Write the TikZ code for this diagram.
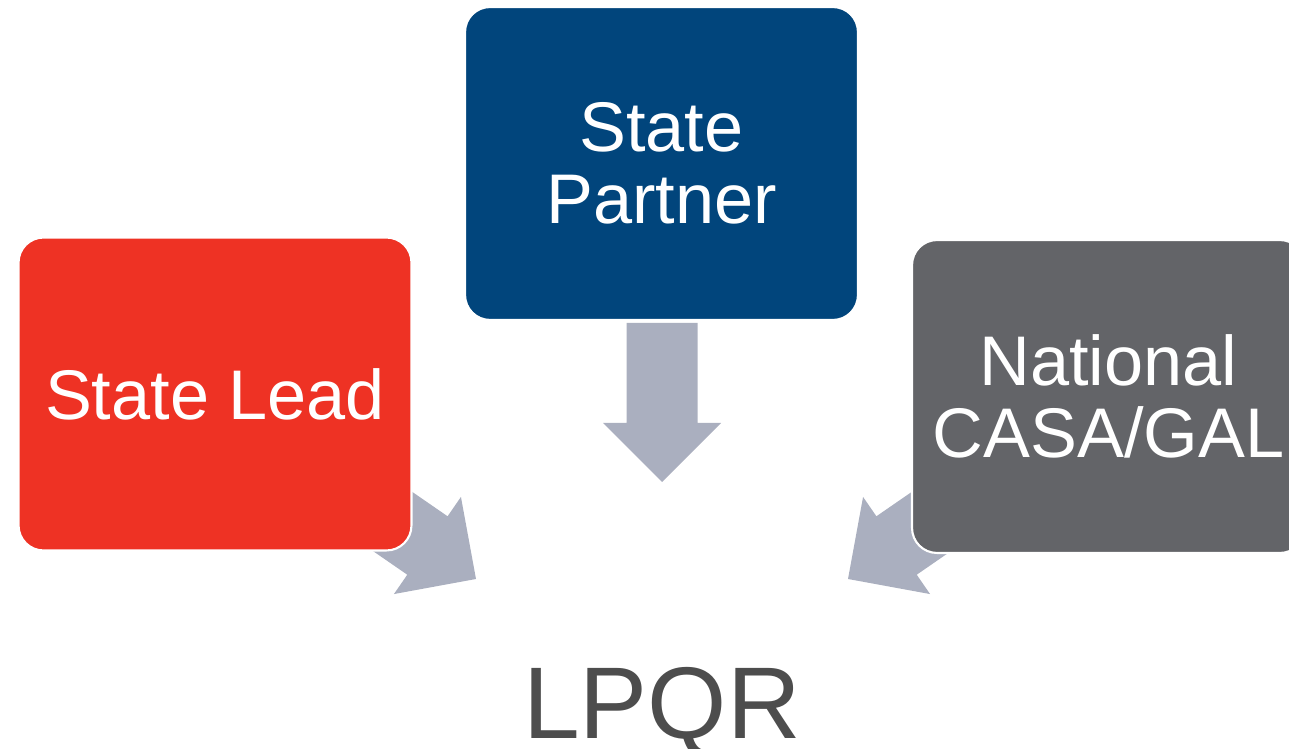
\documentclass[tikz,border=0pt]{standalone}
\usepackage{fontspec}
\setmainfont{Liberation Sans}
\definecolor{leadred}{RGB}{238,50,36}
\definecolor{partnerblue}{RGB}{1,69,124}
\definecolor{nationalgray}{RGB}{99,100,104}
\definecolor{arrowgray}{RGB}{170,175,191}
\definecolor{lpqrgray}{RGB}{77,77,77}

\begin{document}
\begin{tikzpicture}[x=0.02cm,y=-0.02cm,
		bigarrow/.pic = {\fill[arrowgray] (0,0) -- (-59,-59) -- (-59,-35.5) -- (-159,-35.5) -- (-159,35.5) -- (-59,35.5) -- (-59,59) -- cycle;}]
				\useasboundingbox (0,0) rectangle (1289,749);
				% arrows first, boxes on top
				\pic[rotate=-90] at (662,482) {bigarrow};
				\pic[rotate=-34.6] at (476,579) {bigarrow};
				\pic[rotate=-145.4] at (848,579) {bigarrow};
				\begin{scope}[every node/.style={draw=white,line width=1.2pt,rounded corners=0.5cm,minimum width=7.86cm,minimum height=6.26cm,inner sep=0pt,align=center,text=white,font=\fontsize{40}{41}\selectfont}]
					\node[fill=leadred] (Lead) at (215,394) {State Lead};
					\node[fill=partnerblue] (Partner) at (661.5,163.5) {State\\Partner};
					\node[fill=nationalgray] (National) at (1108.5,396.5) {National\\CASA/GAL};
				\end{scope}
				\node[anchor=base,text=lpqrgray,inner sep=0pt,font=\fontsize{58}{60}\selectfont] (LPQR) at (662,739) {LPQR};
			\end{tikzpicture}
\end{document}
